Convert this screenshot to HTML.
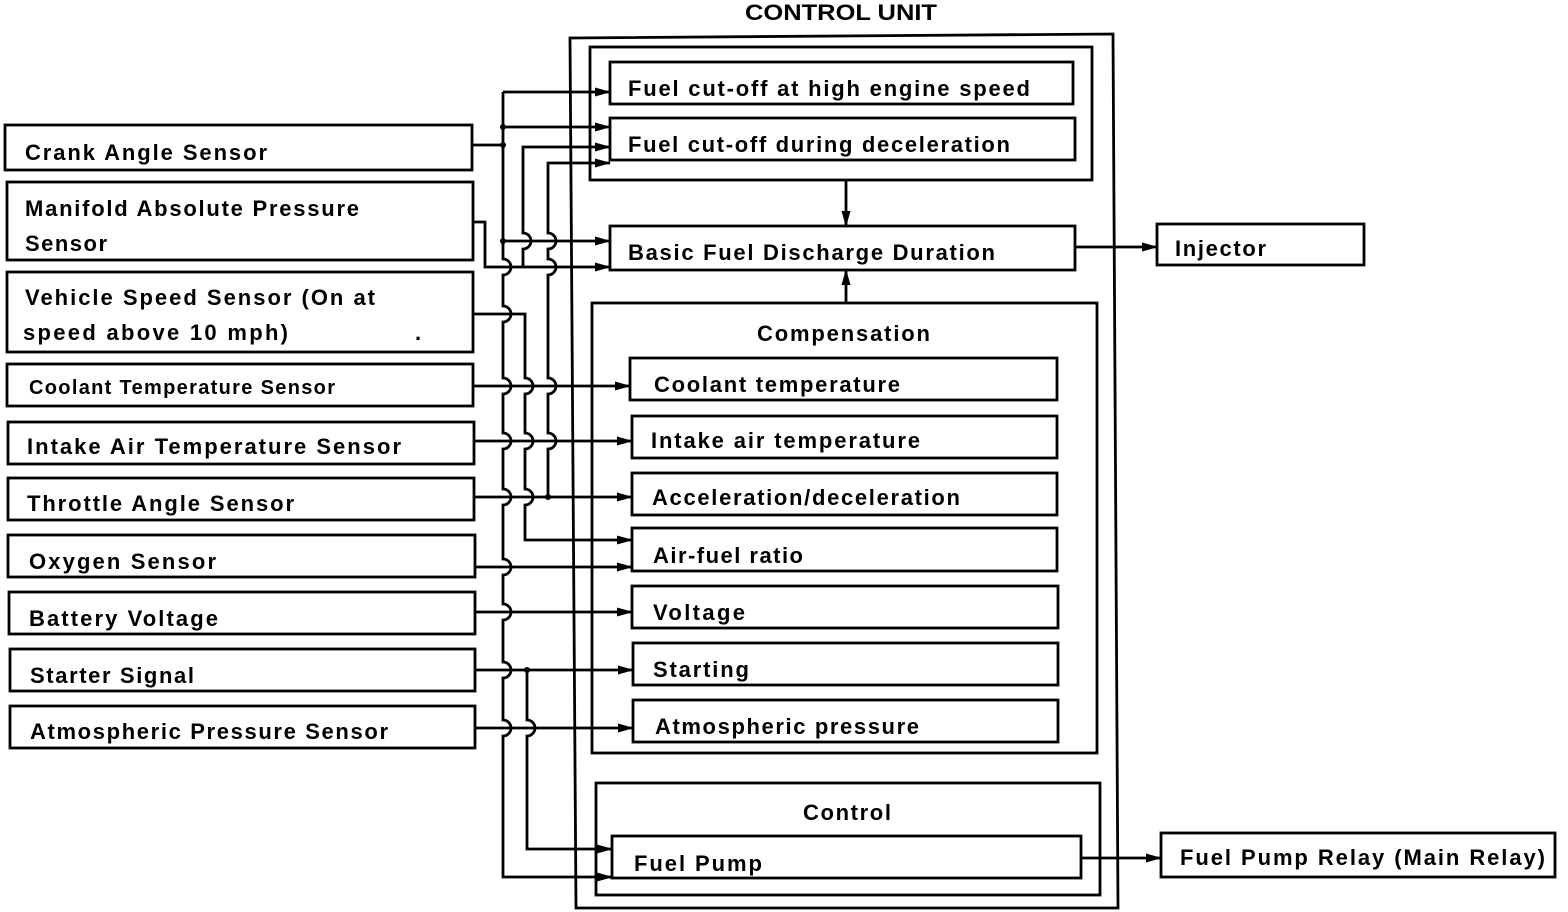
<!DOCTYPE html>
<html><head><meta charset="utf-8"><style>
html,body{margin:0;padding:0;background:#fff;}
svg{display:block;}
text{font-family:"Liberation Sans",Arial,sans-serif;font-weight:bold;font-size:22px;fill:#000;}
</style></head><body>
<svg width="1568" height="912" viewBox="0 0 1568 912" xmlns="http://www.w3.org/2000/svg">
<defs>
<marker id="ar" markerWidth="16" markerHeight="12" refX="15" refY="6" orient="auto" markerUnits="userSpaceOnUse">
<path d="M0,1.5 L16,6 L0,10.5 Z" fill="#000"/>
</marker>
</defs>
<g fill="none" stroke="#000" stroke-width="2.8">
<rect x="5" y="125" width="467" height="45"/>
<rect x="7" y="182" width="466" height="78"/>
<rect x="7" y="272" width="466" height="80"/>
<rect x="7" y="364" width="466" height="42"/>
<rect x="8" y="422" width="466" height="42"/>
<rect x="8" y="478" width="466" height="42"/>
<rect x="8" y="535" width="467" height="42"/>
<rect x="9" y="592" width="466" height="42"/>
<rect x="10" y="649" width="465" height="42"/>
<rect x="10" y="706" width="465" height="42"/>
<path d="M570,38 L1113,34 L1118,908 L576,908 Z"/>
<rect x="590" y="47" width="502" height="133"/>
<rect x="610" y="62" width="463" height="42"/>
<rect x="610" y="118" width="465" height="42"/>
<rect x="610" y="226" width="465" height="44"/>
<rect x="1157" y="224" width="207" height="41"/>
<rect x="592" y="303" width="505" height="450"/>
<rect x="630" y="358" width="427" height="42"/>
<rect x="632" y="416" width="425" height="42"/>
<rect x="632" y="473" width="425" height="42"/>
<rect x="632" y="528" width="425" height="43"/>
<rect x="632" y="586" width="426" height="42"/>
<rect x="633" y="643" width="425" height="42"/>
<rect x="633" y="700" width="425" height="42"/>
<rect x="596" y="783" width="504" height="112"/>
<rect x="612" y="836" width="469" height="42"/>
<rect x="1161" y="833" width="394" height="44"/>
</g>
<g fill="none" stroke="#000" stroke-width="2.8" marker-end="url(#ar)">
<path d="M846,180 V226"/>
<path d="M846,303 V270"/>
<path d="M1075,247 H1157"/>
<path d="M1081,858 H1161"/>
<path d="M503,127 H610"/>
<path d="M503,241 H610"/>
<path d="M503,92 V259 A8 8 0 0 1 503 275 V306 A8 8 0 0 1 503 322 V378 A8 8 0 0 1 503 394 V433 A8 8 0 0 1 503 449 V489 A8 8 0 0 1 503 505 V559 A8 8 0 0 1 503 575 V604 A8 8 0 0 1 503 620 V662 A8 8 0 0 1 503 678 V720 A8 8 0 0 1 503 736 V877 H612"/>
<path d="M503,92 H610"/>
<path d="M523,267 V249 A8 8 0 0 0 523 233 V147 H610"/>
<path d="M473,222 H485 V267 H610"/>
<path d="M548,497 V449 A8 8 0 0 0 548 433 V394 A8 8 0 0 0 548 378 V275 A8 8 0 0 0 548 259 V249 A8 8 0 0 0 548 233 V163 H610"/>
<path d="M473,314 H525 V378 A8 8 0 0 1 525 394 V433 A8 8 0 0 1 525 449 V489 A8 8 0 0 1 525 505 V540 H632"/>
<path d="M473,386 H630"/>
<path d="M474,441 H632"/>
<path d="M474,497 H632"/>
<path d="M475,567 H632"/>
<path d="M475,612 H632"/>
<path d="M475,670 H633"/>
<path d="M475,728 H633"/>
<path d="M527,670 V720 A8 8 0 0 1 527 736 V849 H612"/>
<path d="M472,145 H503" marker-end="none"/>
</g>
<g fill="#000">
<circle cx="503" cy="145" r="3"/><circle cx="503" cy="127" r="3"/><circle cx="503" cy="241" r="3"/>
<circle cx="548" cy="497" r="3"/><circle cx="527" cy="670" r="3"/>
</g>
<text x="745" y="20" textLength="192" lengthAdjust="spacingAndGlyphs">CONTROL UNIT</text>
<text x="25" y="160" textLength="242">Crank Angle Sensor</text>
<text x="25" y="216" textLength="334">Manifold Absolute Pressure</text>
<text x="25" y="251" textLength="82">Sensor</text>
<text x="25" y="305" textLength="350">Vehicle Speed Sensor (On at</text>
<text x="23" y="340" textLength="265">speed above 10 mph)</text>
<text x="415" y="340">.</text>
<text x="29" y="394" textLength="306" style="font-size:20px">Coolant Temperature Sensor</text>
<text x="27" y="454" textLength="374">Intake Air Temperature Sensor</text>
<text x="27" y="511" textLength="267">Throttle Angle Sensor</text>
<text x="29" y="569" textLength="187">Oxygen Sensor</text>
<text x="29" y="626" textLength="189">Battery Voltage</text>
<text x="30" y="683" textLength="164">Starter Signal</text>
<text x="30" y="739" textLength="358">Atmospheric Pressure Sensor</text>
<text x="628" y="96" textLength="402">Fuel cut-off at high engine speed</text>
<text x="628" y="152" textLength="382">Fuel cut-off during deceleration</text>
<text x="628" y="260" textLength="367">Basic Fuel Discharge Duration</text>
<text x="1175" y="256" textLength="91">Injector</text>
<text x="757" y="341" textLength="173">Compensation</text>
<text x="654" y="392" textLength="246">Coolant temperature</text>
<text x="651" y="448" textLength="269">Intake air temperature</text>
<text x="652" y="505" textLength="308">Acceleration/deceleration</text>
<text x="653" y="563" textLength="150">Air-fuel ratio</text>
<text x="653" y="620" textLength="92">Voltage</text>
<text x="653" y="677" textLength="96">Starting</text>
<text x="655" y="734" textLength="264">Atmospheric pressure</text>
<text x="803" y="820" textLength="88">Control</text>
<text x="634" y="871" textLength="128">Fuel Pump</text>
<text x="1180" y="865" textLength="365">Fuel Pump Relay (Main Relay)</text>
</svg>
</body></html>
